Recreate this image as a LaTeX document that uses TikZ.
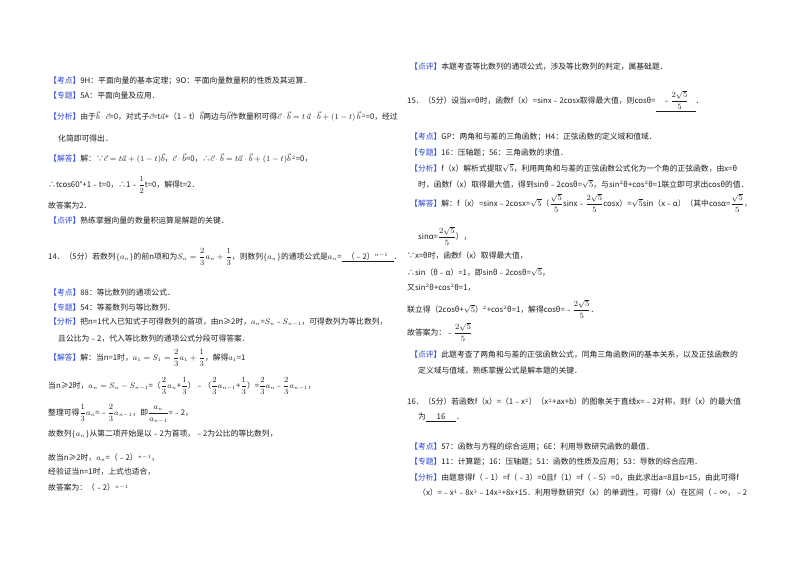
\documentclass[tikz,border=0pt]{standalone}
\usepackage{amsmath}
\usepackage{fontspec}
\setmainfont{Noto Sans CJK SC}
\usepackage{xcolor}
\definecolor{tagblue}{RGB}{40,70,210}
\definecolor{ink}{RGB}{30,30,30}
\newcommand\kd[1]{\textcolor{tagblue}{【#1】}}
\newcommand\fr[2]{$\dfrac{#1}{#2}$}
\begin{document}
\begin{tikzpicture}[x=1pt,y=-1pt,
  ln/.style={anchor=west,inner sep=0pt,font=\fontsize{7.8}{9}\selectfont,text=ink}]
\useasboundingbox[fill=white] (0,0) rectangle (800,565);
% left column
\node[ln] (l1) at (49,81) {\kd{考点}9H：平面向量的基本定理；9O：平面向量数量积的性质及其运算．};
\node[ln] (l2) at (49,96) {\kd{专题}5A：平面向量及应用．};
\node[ln] (l3) at (49,117) {\kd{分析}由于$\vec b\cdot\vec c$=0，对式子$\vec c$=t$\vec a$+（1﹣t）$\vec b$两边与$\vec b$作数量积可得$\vec c\cdot\vec b=t\,\vec a\cdot\vec b+(1-t)\,\vec b^{\,2}$=0，经过};
\node[ln] (l4) at (58,139) {化简即可得出．};
\node[ln] (l5) at (49,159) {\kd{解答}解：∵$\vec c=t\vec a+(1-t)\vec b$，$\vec c\cdot\vec b$=0，∴$\vec c\cdot\vec b=t\vec a\cdot\vec b+(1-t)\vec b^{\,2}$=0，};
\node[ln] (l6) at (48,185) {∴tcos60°+1﹣t=0，∴1﹣\fr12t=0，解得t=2．};
\node[ln] (l7) at (48,206) {故答案为2．};
\node[ln] (l8) at (49,221) {\kd{点评}熟练掌握向量的数量积运算是解题的关键．};
\node[ln] (l9) at (48,257) {14．（5分）若数列$\{a_n\}$的前n项和为$S_n=\dfrac23a_n+\dfrac13$，则数列$\{a_n\}$的通项公式是$a_n$=\underline{\hbox to 52pt{\hfil（﹣2）$^{n-1}$\hfil}}．};
\node[ln] (l10) at (49,293) {\kd{考点}88：等比数列的通项公式．};
\node[ln] (l11) at (49,308) {\kd{专题}54：等差数列与等比数列．};
\node[ln] (l12) at (49,322) {\kd{分析}把n=1代入已知式子可得数列的首项，由n≥2时，$a_n$=$S_n$﹣$S_{n-1}$，可得数列为等比数列，};
\node[ln] (l13) at (58,339) {且公比为﹣2，代入等比数列的通项公式分段可得答案．};
\node[ln] (l14) at (49,358) {\kd{解答}解：当n=1时，$a_1=S_1=\dfrac23a_1+\dfrac13$，解得$a_1$=1};
\node[ln] (l15) at (48,386) {当n≥2时，$a_n=S_n-S_{n-1}$=（\fr23$a_n$+\fr13）﹣（\fr23$a_{n-1}$+\fr13）=\fr23$a_n$﹣\fr23$a_{n-1}$，};
\node[ln] (l16) at (48,414) {整理可得\fr13$a_n$=﹣\fr23$a_{n-1}$，即\fr{a_n}{a_{n-1}}=﹣2，};
\node[ln] (l17) at (48,434) {故数列$\{a_n\}$从第二项开始是以﹣2为首项，﹣2为公比的等比数列，};
\node[ln] (l18) at (48,458) {故当n≥2时，$a_n$=（﹣2）$^{n-1}$，};
\node[ln] (l19) at (48,472) {经验证当n=1时，上式也适合，};
\node[ln] (l20) at (48,488) {故答案为：（﹣2）$^{n-1}$};
% right column
\node[ln] (r1) at (410,67) {\kd{点评}本题考查等比数列的通项公式，涉及等比数列的判定，属基础题．};
\node[ln] (r2) at (407,101) {15．（5分）设当x=θ时，函数f（x）=sinx﹣2cosx取得最大值，则cosθ=\underline{\hbox to 40pt{\hfil﹣$\dfrac{2\sqrt5}{5}$\hfil}}．};
\node[ln] (r3) at (410,137) {\kd{考点}GP：两角和与差的三角函数；H4：正弦函数的定义域和值域．};
\node[ln] (r4) at (410,153) {\kd{专题}16：压轴题；56：三角函数的求值．};
\node[ln] (r5) at (410,168) {\kd{分析}f（x）解析式提取$\sqrt5$，利用两角和与差的正弦函数公式化为一个角的正弦函数，由x=θ};
\node[ln] (r6) at (418,184) {时，函数f（x）取得最大值，得到sinθ﹣2cosθ=$\sqrt5$，与sin$^2$θ+cos$^2$θ=1联立即可求出cosθ的值．};
\node[ln] (r7) at (410,203) {\kd{解答}解：f（x）=sinx﹣2cosx=$\sqrt5$（\fr{\sqrt5}{5}sinx﹣\fr{2\sqrt5}{5}cosx）=$\sqrt5$sin（x﹣α）（其中cosα=\fr{\sqrt5}{5}，};
\node[ln] (r8) at (418,236) {sinα=\fr{2\sqrt5}{5}），};
\node[ln] (r9) at (407,256) {∵x=θ时，函数f（x）取得最大值，};
\node[ln] (r10) at (407,272) {∴sin（θ﹣α）=1，即sinθ﹣2cosθ=$\sqrt5$，};
\node[ln] (r11) at (407,288) {又sin$^2$θ+cos$^2$θ=1，};
\node[ln] (r12) at (407,309) {联立得（2cosθ+$\sqrt5$）$^2$+cos$^2$θ=1，解得cosθ=﹣\fr{2\sqrt5}{5}．};
\node[ln] (r13) at (407,332) {故答案为：﹣\fr{2\sqrt5}{5}};
\node[ln] (r14) at (410,355) {\kd{点评}此题考查了两角和与差的正弦函数公式，同角三角函数间的基本关系，以及正弦函数的};
\node[ln] (r15) at (418,371) {定义域与值域，熟练掌握公式是解本题的关键．};
\node[ln] (r16) at (407,402) {16．（5分）若函数f（x）=（1﹣x$^2$）（x$^2$+ax+b）的图象关于直线x=﹣2对称，则f（x）的最大值};
\node[ln] (r17) at (418,417) {为\underline{\hbox to 30pt{\hfil 16\hfil}}．};
\node[ln] (r18) at (410,447) {\kd{考点}57：函数与方程的综合运用；6E：利用导数研究函数的最值．};
\node[ln] (r19) at (410,462) {\kd{专题}11：计算题；16：压轴题；51：函数的性质及应用；53：导数的综合应用．};
\node[ln] (r20) at (410,478) {\kd{分析}由题意得f（﹣1）=f（﹣3）=0且f（1）=f（﹣5）=0，由此求出a=8且b=15，由此可得f};
\node[ln] (r21) at (418,493) {（x）=﹣x$^4$﹣8x$^3$﹣14x$^2$+8x+15．利用导数研究f（x）的单调性，可得f（x）在区间（﹣∞，﹣2};
\end{tikzpicture}
\end{document}
